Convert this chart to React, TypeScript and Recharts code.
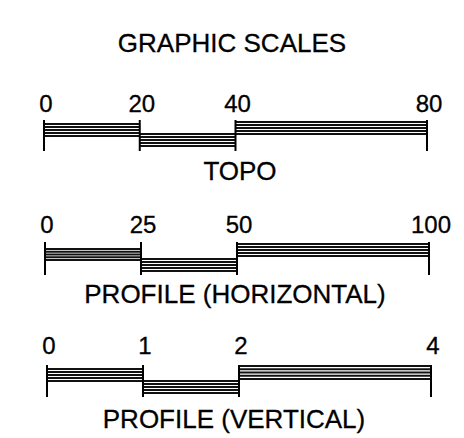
import { ComposedChart, XAxis, YAxis, ReferenceArea, ReferenceLine } from 'recharts';

const title = 'GRAPHIC SCALES';
const captions = ['TOPO', 'PROFILE (HORIZONTAL)', 'PROFILE (VERTICAL)'];
const topoTicks = [0, 20, 40, 80];
const profileHTicks = [0, 25, 50, 100];
const profileVTicks = [0, 1, 2, 4];
const scaleTicks = [topoTicks, profileHTicks, profileVTicks];

// where each scale sits on the page (px)
const layouts = [
  { left: 44, right: 427, top: 120, len: 31, gap: 8, levels: [[3, 17], [13, 27], [1, 15]], capX: 240, capY: 180 },
  { left: 45, right: 429, top: 242, len: 33, gap: 9, levels: [[6, 19], [16, 30], [1, 15]], capX: 235, capY: 303 },
  { left: 47, right: 431, top: 365, len: 32, gap: 11, levels: [[3, 17], [15, 29], [0, 15]], capX: 234, capY: 428 },
];

const FONT = '"Liberation Sans", Arial, sans-serif';
const W = 464;

const Hatch = (p: any) => {
  const { x, y, width, height } = p;
  const n = 5;
  const step = (height - 2) / (n - 1);
  return (
    <g>
      {Array.from({ length: n }, (_, i) => (
        <line key={i} x1={x} x2={x + width} y1={y + 1 + i * step} y2={y + 1 + i * step} stroke="#111" strokeWidth={1.9} />
      ))}
    </g>
  );
};

const ScaleBar = ({ ticks, lay }: { ticks: number[]; lay: typeof layouts[0] }) => {
  const max = ticks[ticks.length - 1];
  const segs = ticks.slice(1).map((t, i) => [ticks[i], t]);
  const data = ticks.map((v) => ({ x: v }));
  return (
    <div style={{ position: 'absolute', left: 0, top: lay.top - 60 }}>
      <ComposedChart
        width={W}
        height={60 + lay.len + 10}
        data={data}
        margin={{ top: 30, bottom: 10, left: lay.left, right: W - lay.right }}
      >
        <XAxis
          dataKey="x"
          type="number"
          orientation="top"
          domain={[0, max]}
          ticks={ticks}
          interval={0}
          height={30}
          axisLine={false}
          tickLine={false}
          tickSize={0}
          tickMargin={lay.gap}
          tick={{ fontSize: 24, fill: '#000', fontFamily: FONT, stroke: '#000', strokeWidth: 0.3, dx: 2 }}
        />
        <YAxis hide type="number" domain={[0, lay.len]} reversed allowDataOverflow />
        {segs.map((s, i) => (
          <ReferenceArea
            key={i}
            x1={s[0]}
            x2={s[1]}
            y1={lay.levels[i][0]}
            y2={lay.levels[i][1]}
            shape={Hatch}
          />
        ))}
        {ticks.map((t) => (
          <ReferenceLine key={t} x={t} stroke="#000" strokeWidth={2} />
        ))}
      </ComposedChart>
    </div>
  );
};

export default function App() {
  return (
    <div style={{ position: 'absolute', left: 0, top: 0, width: W, height: 438, background: '#fff' }}>
      <svg width={W} height={438} style={{ position: 'absolute', left: 0, top: 0 }}>
        <text x={232} y={52} textAnchor="middle" fontSize={26} fontFamily={FONT} fill="#000" stroke="#000" strokeWidth={0.3}>
          {title}
        </text>
        {captions.map((c, i) => (
          <text key={c} x={layouts[i].capX} y={layouts[i].capY} textAnchor="middle" fontSize={26} fontFamily={FONT} fill="#000" stroke="#000" strokeWidth={0.3}>
            {c}
          </text>
        ))}
      </svg>
      {scaleTicks.map((t, i) => (
        <ScaleBar key={i} ticks={t} lay={layouts[i]} />
      ))}
    </div>
  );
}
